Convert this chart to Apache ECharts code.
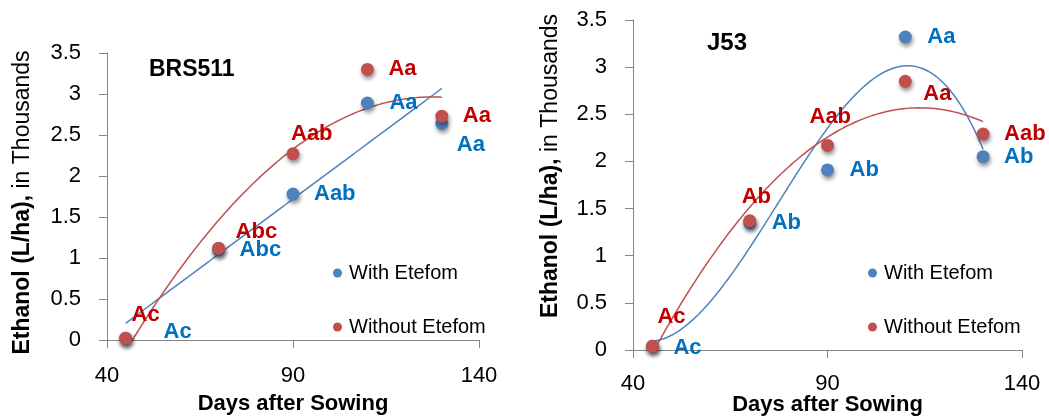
<!DOCTYPE html>
<html>
<head>
<meta charset="utf-8">
<script src="https://cdn.jsdelivr.net/npm/echarts@6/dist/echarts.min.js"></script>
<style>
html,body{margin:0;padding:0;background:#fff;}
#c{width:1049px;height:417px;}
</style>
</head>
<body>
<div id="c"></div>
<script>
// ---------- DATA ----------
const days = [45, 70, 90, 110, 130];
const xTicks = [40, 90, 140];
const yTicks = [0, 0.5, 1, 1.5, 2, 2.5, 3, 3.5];

const brsWith    = [0.02, 1.10, 1.78, 2.89, 2.64];
const brsWithout = [0.02, 1.12, 2.27, 3.30, 2.73];
const brsWithLetters    = ['Ac', 'Abc', 'Aab', 'Aa', 'Aa'];
const brsWithoutLetters = ['Ac', 'Abc', 'Aab', 'Aa', 'Aa'];

const j53With    = [0.04, 1.35, 1.91, 3.32, 2.05];
const j53Without = [0.04, 1.37, 2.17, 2.85, 2.29];
const j53WithLetters    = ['Ac', 'Ab', 'Ab', 'Aa', 'Ab'];
const j53WithoutLetters = ['Ac', 'Ab', 'Aab', 'Aa', 'Aab'];

const seriesNames = ['With Etefom', 'Without Etefom'];
const panelTitles = ['BRS511', 'J53'];
const xTitle = 'Days after Sowing';

// ---------- STYLE (label offsets in px, relative to point centre) ----------
const offBrsWith    = [[38, -6], [21, 0], [21, 0], [22, 0], [15, 21]];
const offBrsWithout = [[6, -23], [17, -16], [-2, -20], [21, 0], [21, 0]];
const offJ53With    = [[21, 2], [22, 0], [22, 0], [22, 0], [21, 0]];
const offJ53Without = [[5, -29], [-8, -24], [-18, -28], [18, 13], [21, 0]];

const BLUE = '#4F81BD', RED = '#C0504D';
const BLUE_TXT = '#0070C0', RED_TXT = '#C00000';
const FONT = '"Liberation Sans", Arial, sans-serif';

// least-squares polynomial fit (trendline, as in the original spreadsheet)
function polyfit(xs, ys, deg) {
  const n = deg + 1, xm = xs.reduce((a, b) => a + b, 0) / xs.length;
  const A = [], B = [];
  for (let i = 0; i < n; i++) {
    A.push([]);
    for (let j = 0; j < n; j++) {
      A[i].push(xs.reduce((s, x) => s + Math.pow(x - xm, i + j), 0));
    }
    B.push(xs.reduce((s, x, k) => s + ys[k] * Math.pow(x - xm, i), 0));
  }
  for (let i = 0; i < n; i++) {
    let p = i;
    for (let r = i + 1; r < n; r++) if (Math.abs(A[r][i]) > Math.abs(A[p][i])) p = r;
    [A[i], A[p]] = [A[p], A[i]]; [B[i], B[p]] = [B[p], B[i]];
    for (let r = 0; r < n; r++) {
      if (r === i) continue;
      const f = A[r][i] / A[i][i];
      for (let c = i; c < n; c++) A[r][c] -= f * A[i][c];
      B[r] -= f * B[i];
    }
  }
  const coef = B.map((b, i) => b / A[i][i]);
  return x => coef.reduce((s, c, i) => s + c * Math.pow(x - xm, i), 0);
}
function trend(ys, deg) {
  const f = polyfit(days, ys, deg);
  const out = [];
  const x0 = days[0], x1 = days[days.length - 1];
  for (let x = x0; x <= x1 + 1e-9; x += 0.5) out.push([x, f(x)]);
  return out;
}

function pts(ys, letters, offs, txtColor) {
  return ys.map((y, i) => ({
    value: [days[i], y],
    label: { show: true, formatter: letters[i], position: 'inside', align: 'left',
             verticalAlign: 'middle', offset: offs[i], color: txtColor,
             fontFamily: FONT, fontWeight: 'bold', fontSize: 22 }
  }));
}

const grids = [
  { left: 107, right: 570, top: 53, bottom: 77, outerBoundsMode: 'none', containLabel: false },
  { left: 633, right: 27, top: 20, bottom: 67, outerBoundsMode: 'none', containLabel: false }
];

function xAxis(gi) {
  return {
    gridIndex: gi, type: 'value', min: 40, max: 140, interval: 50,
    name: xTitle, nameLocation: 'middle', nameGap: gi === 0 ? 53 : 44, nameMoveOverlap: false,
    nameTextStyle: { fontFamily: FONT, fontWeight: 'bold', fontSize: 22, color: '#000' },
    axisLine: { show: true, lineStyle: { color: '#868686', width: 1 } },
    axisTick: { show: true, length: 8, lineStyle: { color: '#868686' } },
    axisLabel: { fontFamily: FONT, fontSize: 22, color: '#000', margin: gi === 0 ? 25 : 23 },
    splitLine: { show: false }
  };
}
function yAxis(gi) {
  return {
    gridIndex: gi, type: 'value', min: 0, max: 3.5, interval: 0.5,
    name: '{b|Ethanol (L/ha),}{r| in Thousands}', nameLocation: 'middle', nameRotate: 90,
    nameGap: gi === 0 ? 73 : 71, nameMoveOverlap: false,
    nameTextStyle: {
      padding: gi === 0 ? [0, 12, 0, 0] : [0, 0, 0, 38],
      rich: {
        b: { fontFamily: FONT, fontWeight: 'bold', fontSize: 23, color: '#000' },
        r: { fontFamily: FONT, fontSize: 23, color: '#000' } } },
    axisLine: { show: true, lineStyle: { color: '#868686', width: 1 } },
    axisTick: { show: true, length: 8, lineStyle: { color: '#868686' } },
    axisLabel: { fontFamily: FONT, fontSize: 22, color: '#000', margin: 26,
                 formatter: v => String(v) },
    splitLine: { show: false }
  };
}

const shadow = { shadowBlur: 4, shadowColor: 'rgba(0,0,0,0.45)', shadowOffsetX: 1, shadowOffsetY: 3 };

function scatter(name, gi, data, color) {
  return { name, type: 'scatter', xAxisIndex: gi, yAxisIndex: gi, symbol: 'circle', symbolSize: 13,
           itemStyle: Object.assign({ color, opacity: 1 }, shadow), data, z: 3 };
}
function line(gi, data, color) {
  return { name: 'trend', type: 'line', xAxisIndex: gi, yAxisIndex: gi, data, showSymbol: false,
           symbol: 'none', smooth: false, lineStyle: { color, width: 1.5 }, silent: true, z: 2 };
}

function legend(left, top) {
  return {
    data: seriesNames, orient: 'vertical', left, top, icon: 'circle', itemWidth: 9, itemHeight: 9,
    itemGap: 34, selectedMode: false,
    itemStyle: { shadowBlur: 0, shadowColor: 'transparent', shadowOffsetX: 0, shadowOffsetY: 0 },
    textStyle: { fontFamily: FONT, fontSize: 20, color: '#000', lineHeight: 20, padding: [0, 0, 0, 2] }
  };
}

const option = {
  animation: false,
  grid: grids,
  xAxis: [xAxis(0), xAxis(1)],
  yAxis: [yAxis(0), yAxis(1)],
  legend: [legend(328, 258), legend(863, 258)],
  title: [
    { text: panelTitles[0], left: 144, top: 53,
      textStyle: { fontFamily: FONT, fontWeight: 'bold', fontSize: 23, color: '#000' } },
    { text: panelTitles[1], left: 702, top: 26,
      textStyle: { fontFamily: FONT, fontWeight: 'bold', fontSize: 24, color: '#000' } }
  ],
  series: [
    line(0, trend(brsWith, 1), BLUE),
    line(0, trend(brsWithout, 2), RED),
    scatter(seriesNames[0], 0, pts(brsWith, brsWithLetters, offBrsWith, BLUE_TXT), BLUE),
    scatter(seriesNames[1], 0, pts(brsWithout, brsWithoutLetters, offBrsWithout, RED_TXT), RED),
    line(1, trend(j53With, 3), BLUE),
    line(1, trend(j53Without, 2), RED),
    scatter(seriesNames[0], 1, pts(j53With, j53WithLetters, offJ53With, BLUE_TXT), BLUE),
    scatter(seriesNames[1], 1, pts(j53Without, j53WithoutLetters, offJ53Without, RED_TXT), RED)
  ]
};

const chart = echarts.init(document.getElementById('c'), null, { renderer: 'canvas' });
chart.setOption(option);
</script>
</body>
</html>
